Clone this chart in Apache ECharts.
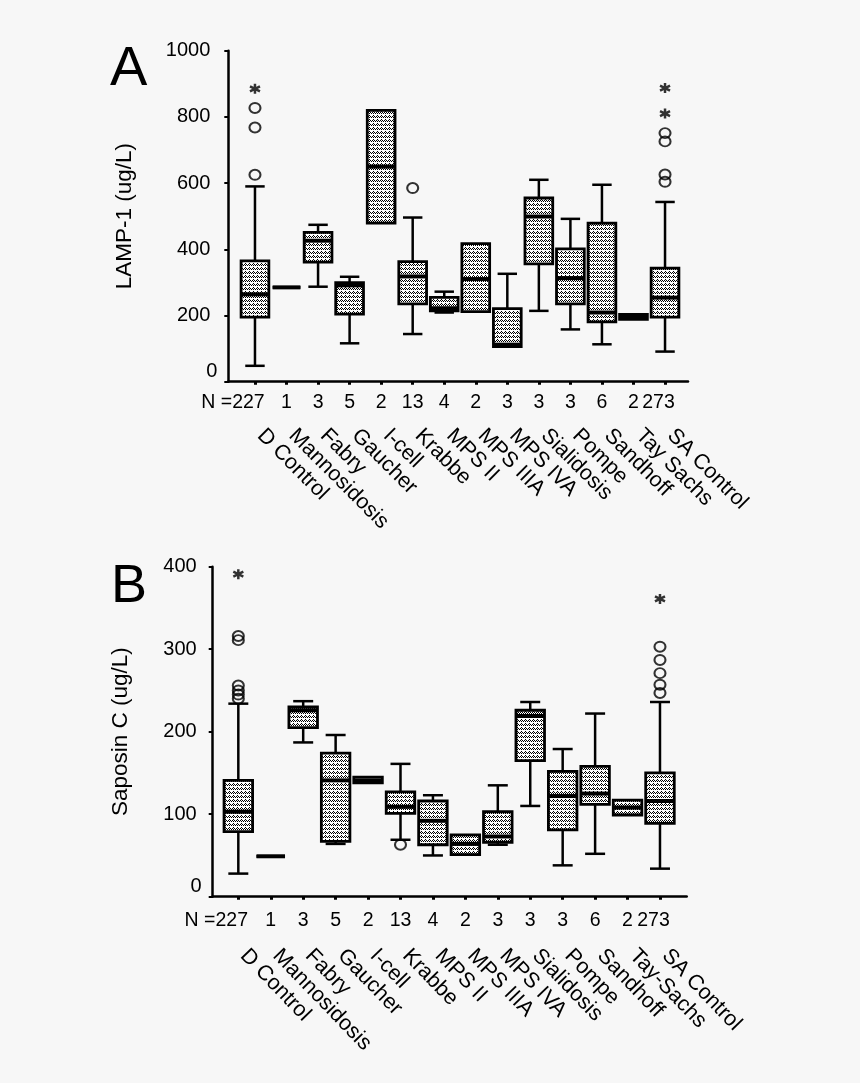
<!DOCTYPE html>
<html><head><meta charset="utf-8">
<script src="https://cdn.jsdelivr.net/npm/echarts@6/dist/echarts.min.js"></script>
<style>html,body{margin:0;padding:0;background:#f7f7f7;} #c{width:860px;height:1083px;}</style>
</head><body><div id="c"></div>
<script>
// ---------- data ----------
const categoriesA = ['D Control','Mannosidosis','Fabry','Gaucher','I-cell','Krabbe','MPS II','MPS IIIA','MPS IVA','Sialidosis','Pompe','Sandhoff','Tay Sachs','SA Control'];
const categoriesB = ['D Control','Mannosidosis','Fabry','Gaucher','I-cell','Krabbe','MPS II','MPS IIIA','MPS IVA','Sialidosis','Pompe','Sandhoff','Tay-Sachs','SA Control'];
const nCounts = [227,1,3,5,2,13,4,2,3,3,3,6,2,273];

// [min, q1, median, q3, max]
const lampBoxes = [
  [48,195,264,365,590],
  [285,285,285,285,285],
  [287,361,426,451,474],
  [116,204,291,299,317],
  [479,479,650,820,820],
  [144,235,318,363,496],
  [209,214,222,255,272],
  [212,212,310,417,417],
  [106,106,112,221,326],
  [214,356,499,555,610],
  [158,235,313,401,492],
  [113,181,209,479,595],
  [188,188,195,203,203],
  [91,195,254,343,543]
];
const lampOutliers = [[0,625],[0,768],[0,827],[5,585],[13,604],[13,626],[13,726],[13,751]];
const lampExtremes = [[0,885],[13,810],[13,887]];

const saposinBoxes = [
  [28,79,103,141,234],
  [49,49,49,49,49],
  [187,205,226,230,237],
  [64,67,141,174,196],
  [138,138,141,145,145],
  [69,101,109,127,161],
  [50,63,92,116,123],
  [51,51,64,75,75],
  [63,66,73,103,135],
  [110,165,219,226,236],
  [38,81,122,152,179],
  [52,112,125,158,222],
  [99,99,108,117,117],
  [34,89,116,150,236]
];
const saposinOutliers = [[0,240],[0,245],[0,250],[0,256],[0,311],[0,316],[5,63],[13,247],[13,257],[13,271],[13,287],[13,303]];
const saposinExtremes = [[0,391],[13,361]];

const lampAxis = {min:0, max:1000, interval:200};
const saposinAxis = {min:0, max:400, interval:100};

// ---------- styling helpers ----------
const FONT = 'Liberation Sans, Arial, sans-serif';
function makePattern(){
  const c = document.createElement('canvas'); c.width = 4; c.height = 4;
  const g = c.getContext('2d');
  g.fillStyle = '#ffffff'; g.fillRect(0,0,4,4);
  g.fillStyle = '#000000';
  [[0,0],[2,0],[1,1],[3,1],[1,3]].forEach(p => g.fillRect(p[0],p[1],1,1));
  return c;
}
const pattern = {image: makePattern(), repeat: 'repeat'};

function renderBox(params, api){
  const idx = api.value(0);
  const v = [api.value(1), api.value(2), api.value(3), api.value(4), api.value(5)];
  const band = api.size([1,0])[0];
  const bw = band * 0.88, cw = bw * 0.7;
  const x = api.coord([idx, 0])[0];
  const y = v.map(val => api.coord([idx, val])[1]);
  const lineStyle = {stroke:'#000', lineWidth:2.5};
  const ch = [];
  if (v[4] > v[3]) {
    ch.push({type:'line', shape:{x1:x, y1:y[3], x2:x, y2:y[4]}, style:lineStyle});
    ch.push({type:'line', shape:{x1:x-cw/2, y1:y[4], x2:x+cw/2, y2:y[4]}, style:lineStyle});
  }
  if (v[0] < v[1]) {
    ch.push({type:'line', shape:{x1:x, y1:y[1], x2:x, y2:y[0]}, style:lineStyle});
    ch.push({type:'line', shape:{x1:x-cw/2, y1:y[0], x2:x+cw/2, y2:y[0]}, style:lineStyle});
  }
  ch.push({type:'rect', shape:{x:x-bw/2, y:y[3], width:bw, height:y[1]-y[3]},
           style:{fill:pattern, stroke:'#000', lineWidth:2.8}});
  ch.push({type:'line', shape:{x1:x-bw/2, y1:y[2], x2:x+bw/2, y2:y[2]}, style:{stroke:'#000', lineWidth:4}});
  return {type:'group', children:ch};
}

function frameX(grid){
  return {gridIndex:grid, type:'value', min:0, max:1, position:'bottom',
    axisLine:{show:true, lineStyle:{color:'#000', width:2.5}},
    axisTick:{show:false}, axisLabel:{show:false}, splitLine:{show:false}};
}
function nAxis(grid, cats){
  const base = {fontSize:19.5, color:'#000', fontFamily:FONT};
  return {gridIndex:grid, type:'category', data:cats, position:'bottom',
    axisLine:{show:false},
    axisTick:{show:true, alignWithLabel:true, length:3, lineStyle:{color:'#000', width:3}},
    axisLabel:{interval:0, margin:grid===1?11:14, fontSize:19.5, color:'#000', fontFamily:FONT,
      formatter:(val, i) => {
        const s = String(nCounts[i]);
        if (i === 0) return '{f|N =' + s + '}';
        return s.length >= 3 ? '{w|' + s + '}' : s;
      },
      rich:{w:Object.assign({padding:[0,13,0,0]}, base),
            f:Object.assign({padding:[0,44,0,0]}, base)}},
    splitLine:{show:false}};
}
function nameAxis(grid, cats, margin, rot){
  return {gridIndex:grid, type:'category', data:cats, position:'bottom',
    axisLine:{show:false}, axisTick:{show:false},
    axisLabel:{interval:0, rotate:rot, margin:margin, fontSize:21.5, color:'#000', fontFamily:FONT,
      padding:[0,0,0,8]},
    splitLine:{show:false}};
}
function frameY(grid, ax, name, gap, pad){
  return {gridIndex:grid, type:'value', min:ax.min, max:ax.max, interval:ax.interval,
    name:name, nameLocation:'middle', nameGap:gap,
    nameTextStyle:{fontSize:22.5, color:'#000', fontFamily:FONT},
    axisLine:{show:true, lineStyle:{color:'#000', width:2.5}},
    axisTick:{show:true, length:4, lineStyle:{color:'#000', width:2}},
    axisLabel:{margin:11, fontSize:20, color:'#000', fontFamily:FONT,
      formatter:val => val === 0 ? '{z|0}' : '{n|' + val + '}',
      rich:{n:{fontSize:20, color:'#000', fontFamily:FONT, padding:[0,pad,0,0]},
            z:{fontSize:20, color:'#000', fontFamily:FONT, padding:[0,0,20,0]}}},
    splitLine:{show:false}};
}
function dataY(grid, ax){
  return {gridIndex:grid, type:'value', min:ax.min, max:ax.max, show:false, splitLine:{show:false}};
}

const circleStyle = {color:'rgba(0,0,0,0)', borderColor:'#000', borderWidth:2};
const starSymbol = 'path://M5 0 L5 10 M0.7 2.5 L9.3 7.5 M0.7 7.5 L9.3 2.5';
const starStyle = {color:'rgba(0,0,0,0)', borderColor:'#000', borderWidth:2.5};

const option = {
  backgroundColor:'#f7f7f7',
  animation:false,
  textStyle:{fontFamily:FONT, color:'#000'},
  title:[
    {text:'A', left:105, top:37, textStyle:{fontSize:56, fontWeight:'normal', color:'#000', fontFamily:FONT}},
    {text:'B', left:106, top:555, textStyle:{fontSize:54, fontWeight:'normal', color:'#000', fontFamily:FONT}}
  ],
  grid:[
    {left:228.3, top:50.7, width:459.7, height:331, outerBoundsMode:'none'},
    {left:239.2, top:50.7, width:441.6, height:331, outerBoundsMode:'none'},
    {left:212.7, top:566.7, width:474, height:330, outerBoundsMode:'none'},
    {left:222.1, top:566.7, width:454.1, height:330, outerBoundsMode:'none'}
  ],
  xAxis:[
    frameX(0), nAxis(1, categoriesA), nameAxis(1, categoriesA, 45, -45),
    frameX(2), nAxis(3, categoriesB), nameAxis(3, categoriesB, 50, -46)
  ],
  yAxis:[
    frameY(0, lampAxis, 'LAMP-1 (ug/L)', 92, 7), dataY(1, lampAxis),
    frameY(2, saposinAxis, 'Saposin C (ug/L)', 80, 5), dataY(3, saposinAxis)
  ],
  series:[
    {type:'custom', xAxisIndex:1, yAxisIndex:1, renderItem:renderBox,
     encode:{x:0, y:[1,2,3,4,5]}, data:lampBoxes.map((b,i) => [i].concat(b))},
    {type:'scatter', xAxisIndex:1, yAxisIndex:1, symbol:'circle', symbolSize:[11,10],
     itemStyle:circleStyle, data:lampOutliers},
    {type:'scatter', xAxisIndex:1, yAxisIndex:1, symbol:starSymbol, symbolSize:10,
     itemStyle:starStyle, data:lampExtremes},
    {type:'custom', xAxisIndex:4, yAxisIndex:3, renderItem:renderBox,
     encode:{x:0, y:[1,2,3,4,5]}, data:saposinBoxes.map((b,i) => [i].concat(b))},
    {type:'scatter', xAxisIndex:4, yAxisIndex:3, symbol:'circle', symbolSize:[11,10],
     itemStyle:circleStyle, data:saposinOutliers},
    {type:'scatter', xAxisIndex:4, yAxisIndex:3, symbol:starSymbol, symbolSize:10,
     itemStyle:starStyle, data:saposinExtremes}
  ]
};
const chart = echarts.init(document.getElementById('c'), null, {renderer:'canvas'});
chart.setOption(option);
</script></body></html>
